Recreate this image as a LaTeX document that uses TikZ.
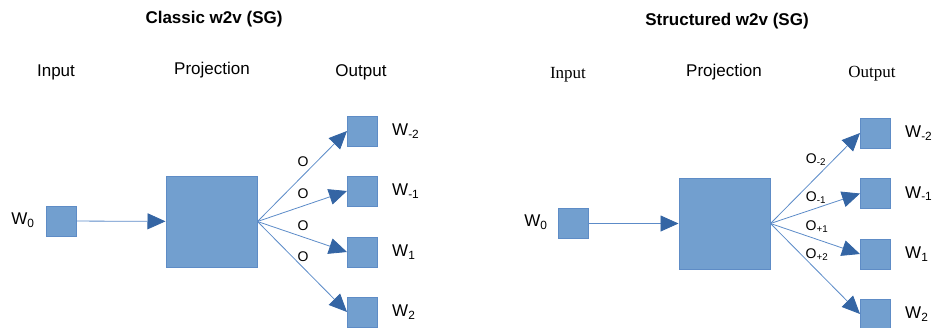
\documentclass[tikz,border=0pt]{standalone}
\usepackage{fontspec}
\setmainfont{Liberation Sans}
\newfontfamily\serifface{Liberation Serif}
\usepackage{xcolor}
\usetikzlibrary{positioning,arrows.meta}
\definecolor{boxfill}{HTML}{729FCF}
\definecolor{boxline}{HTML}{5E8CC6}
\definecolor{arrline}{HTML}{5C8BC8}
\definecolor{arrhead}{HTML}{3465A4}
\tikzset{
  unit/.style={draw=boxline,fill=boxfill,line width=1pt,inner sep=0pt,minimum size=30pt},
  proj/.style={unit,minimum size=91pt},
  hdr/.style={font=\fontsize{17}{20}\selectfont},
  ttl/.style={font=\fontsize{17}{20}\selectfont\bfseries},
  wlbl/.style={font=\fontsize{17}{20}\selectfont,inner sep=0pt},
  olbl/.style={font=\fontsize{14}{16}\selectfont,inner sep=0pt},
  arr/.style={draw=arrline,line width=0.8pt,-{Triangle[length=18pt,width=16pt,color=arrhead]}}
}
\begin{document}
\begin{tikzpicture}[x=1pt,y=-1pt]
  \useasboundingbox (0,0) rectangle (933,327);
  % classic skip-gram
  \node[ttl] (ctitle) at (214,19) {Classic w2v (SG)};
  \node[hdr] (cinput) at (56,72) {Input};
  \node[hdr] (cproj) at (212,70) {Projection};
  \node[hdr] (coutput) at (361,72) {Output};
  \node[unit] (cw0) at (61,221) {};
  \node[wlbl] (cw0l) at (23,220) {W\textsubscript{0}};
  \node[proj] (cp) at (211.5,221.5) {};
  \node[unit] (cm2) at (362.5,131) {};
  \node[unit] (cm1) at (362.5,191) {};
  \node[unit] (cp1) at (362.5,252) {};
  \node[unit] (cp2) at (362.5,312) {};
  \node[wlbl,right=14pt of cm2] (cm2l) {W\textsubscript{-2}};
  \node[wlbl,right=14pt of cm1] (cm1l) {W\textsubscript{-1}};
  \node[wlbl,right=14pt of cp1] (cp1l) {W\textsubscript{1}};
  \node[wlbl,right=14pt of cp2] (cp2l) {W\textsubscript{2}};
  \draw[arr] (cw0) -- (cp);
  \draw[arr] (cp.east) -- (cm2.west);
  \draw[arr] (cp.east) -- (cm1.west);
  \draw[arr] (cp.east) -- (cp1.west);
  \draw[arr] (cp.east) -- (cp2.west);
  \node[olbl] (co1) at (303,162) {O};
  \node[olbl] (co2) at (303,194) {O};
  \node[olbl] (co3) at (303,226) {O};
  \node[olbl] (co4) at (303,257) {O};
  % structured skip-gram
  \node[ttl] (stitle) at (727,21) {Structured w2v (SG)};
  \node[hdr,font=\fontsize{17}{20}\selectfont\serifface] (sinput) at (568,75) {Input};
  \node[hdr] (sproj) at (724,72) {Projection};
  \node[hdr,font=\fontsize{17}{20}\selectfont\serifface] (soutput) at (872,74) {Output};
  \node[unit] (sw0) at (573.5,223.5) {};
  \node[wlbl] (sw0l) at (536,222) {W\textsubscript{0}};
  \node[proj] (sp) at (724.5,223.5) {};
  \node[unit] (sm2) at (875.5,133) {};
  \node[unit] (sm1) at (875.5,193.5) {};
  \node[unit] (sp1) at (875.5,254) {};
  \node[unit] (sp2) at (875.5,314) {};
  \node[wlbl,right=14pt of sm2] (sm2l) {W\textsubscript{-2}};
  \node[wlbl,right=14pt of sm1] (sm1l) {W\textsubscript{-1}};
  \node[wlbl,right=14pt of sp1] (sp1l) {W\textsubscript{1}};
  \node[wlbl,right=14pt of sp2] (sp2l) {W\textsubscript{2}};
  \draw[arr] (sw0) -- (sp);
  \draw[arr] (sp.east) -- (sm2.west);
  \draw[arr] (sp.east) -- (sm1.west);
  \draw[arr] (sp.east) -- (sp1.west);
  \draw[arr] (sp.east) -- (sp2.west);
  \node[olbl] (so1) at (816,160) {O\textsubscript{-2}};
  \node[olbl] (so2) at (816,198) {O\textsubscript{-1}};
  \node[olbl] (so3) at (817,227) {O\textsubscript{+1}};
  \node[olbl] (so4) at (817,255) {O\textsubscript{+2}};
\end{tikzpicture}
\end{document}
